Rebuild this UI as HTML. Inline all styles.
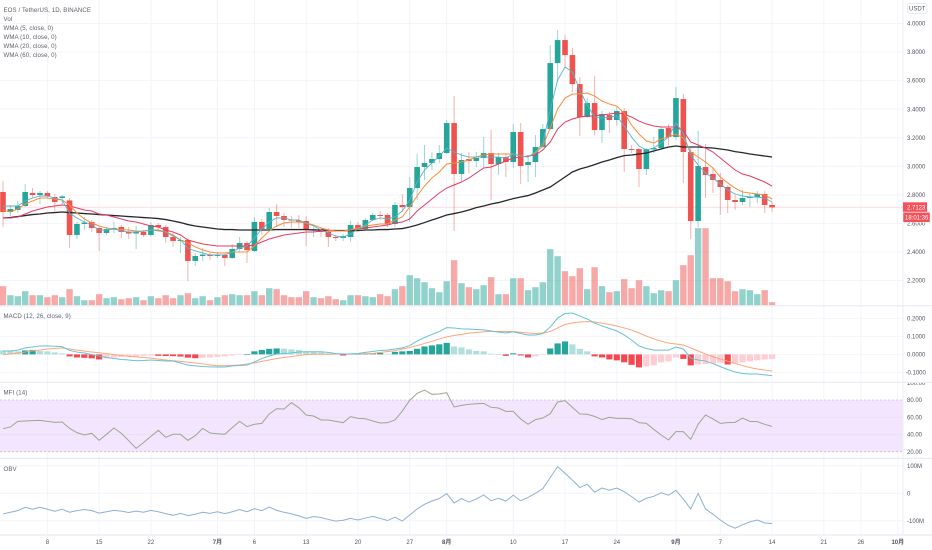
<!DOCTYPE html>
<html lang="zh">
<head>
<meta charset="utf-8">
<title>EOS / TetherUS 1D</title>
<style>
html,body{margin:0;padding:0;background:#fff;width:932px;height:550px;overflow:hidden}
svg{display:block}
text{font-family:"Liberation Sans","Noto Sans CJK SC",sans-serif;font-size:6px;fill:#50535e}
.legend{font-size:6.1px;letter-spacing:.1px;fill:#5d606b}
</style>
</head>
<body>
<svg id="chart" xmlns="http://www.w3.org/2000/svg" width="932" height="550" viewBox="0 0 932 550">
  <defs><clipPath id="mfiLabelClip"><rect x="903" y="383" width="29" height="76"/></clipPath></defs>
  <rect x="0" y="0" width="932" height="550" fill="#ffffff"/>
  <g id="grid"></g>
  <rect x="0" y="400" width="903" height="51.7" fill="#f3e5fd"/>
  <line x1="0" x2="903" y1="400" y2="400" stroke="#cbbdd6" stroke-width="0.8" stroke-dasharray="2 2"/>
  <line x1="0" x2="903" y1="451.7" y2="451.7" stroke="#cbbdd6" stroke-width="0.8" stroke-dasharray="2 2"/>
  <g id="mfiGrid"></g>
  <line x1="0" x2="903" y1="207.4" y2="207.4" stroke="#fde3e3" stroke-width="1.4"/>
  <g id="volume"></g>
  <g id="candles"></g>
  <g id="wma"></g>
  <g id="macdPane"></g>
  <g id="mfiPane"></g>
  <g id="obvPane"></g>
  <g stroke="#e8eaf0" stroke-width="1.2">
    <line x1="0" x2="932" y1="305.8" y2="305.8"/>
    <line x1="0" x2="932" y1="382.3" y2="382.3"/>
    <line x1="0" x2="932" y1="458.4" y2="458.4"/>
    <line x1="0" x2="932" y1="535" y2="535"/>
  </g>
  <line x1="903" x2="903" y1="0" y2="535" stroke="#eceef4" stroke-width="1"/>
  <g id="axisLabels"></g>
  <g>
    <text class="legend" x="3.5" y="11.8">EOS / TetherUS, 1D, BINANCE</text>
    <text class="legend" x="3.5" y="20.8">Vol</text>
    <text class="legend" x="3.5" y="29.8">WMA (5, close, 0)</text>
    <text class="legend" x="3.5" y="38.8">WMA (10, close, 0)</text>
    <text class="legend" x="3.5" y="47.8">WMA (20, close, 0)</text>
    <text class="legend" x="3.5" y="56.8">WMA (60, close, 0)</text>
  </g>
  <text class="legend" x="3.5" y="318">MACD (12, 26, close, 9)</text>
  <text class="legend" x="3.5" y="394.6">MFI (14)</text>
  <text class="legend" x="3.5" y="471">OBV</text>
  <g>
    <rect x="907.5" y="3.5" width="19.5" height="9.8" rx="1.8" fill="#fff" stroke="#e0e3eb" stroke-width="0.8"/>
    <text x="917.2" y="10.5" text-anchor="middle" font-size="5.6">USDT</text>
  </g>
  <g>
    <rect x="903" y="202.3" width="24" height="9.5" fill="#f4515a"/>
    <text x="907" y="209.3" style="fill:#fff">2.7123</text>
    <rect x="903" y="212.3" width="27" height="10" fill="#f4515a" stroke="#fff" stroke-width="0.5"/>
    <text x="905" y="219.6" style="fill:#fff">18:01:36</text>
  </g>
</svg>
<script>
var opens=[2.820,2.680,2.694,2.722,2.813,2.799,2.813,2.785,2.778,2.761,
2.519,2.596,2.610,2.568,2.533,2.557,2.575,2.540,2.529,2.540,
2.519,2.589,2.575,2.505,2.477,2.484,2.337,2.372,2.382,2.372,
2.379,2.358,2.421,2.463,2.407,2.610,2.561,2.680,2.652,2.627,
2.620,2.617,2.554,2.561,2.540,2.505,2.498,2.505,2.589,2.561,
2.624,2.659,2.659,2.596,2.729,2.715,2.848,2.995,3.023,3.051,
3.093,3.303,2.946,3.051,3.037,3.058,3.093,3.016,3.065,3.030,
3.240,3.009,3.030,3.135,3.261,3.723,3.884,3.779,3.576,3.345,
3.443,3.254,3.359,3.324,3.387,3.121,3.121,2.981,3.118,3.128,
3.268,3.205,3.471,3.100,2.617,2.995,2.946,2.904,2.855,2.764,
2.750,2.778,2.785,2.806,2.729];
var highs=[2.897,2.729,2.757,2.876,2.848,2.827,2.827,2.806,2.799,2.778,
2.610,2.645,2.624,2.575,2.575,2.610,2.589,2.575,2.582,2.554,
2.610,2.603,2.589,2.533,2.505,2.498,2.393,2.428,2.393,2.400,
2.393,2.456,2.505,2.477,2.645,2.631,2.708,2.736,2.673,2.652,
2.659,2.652,2.575,2.575,2.568,2.519,2.526,2.617,2.610,2.638,
2.673,2.687,2.673,2.750,2.806,2.925,3.086,3.149,3.100,3.149,
3.324,3.492,3.093,3.100,3.100,3.205,3.254,3.093,3.093,3.296,
3.303,3.079,3.219,3.296,3.849,3.954,3.919,3.828,3.625,3.478,
3.632,3.387,3.380,3.415,3.408,3.149,3.128,3.128,3.205,3.275,
3.296,3.555,3.506,3.128,3.247,3.156,2.988,2.953,2.869,2.799,
2.834,2.813,2.827,2.827,2.750];
var lows=[2.575,2.652,2.673,2.715,2.778,2.736,2.778,2.687,2.729,2.428,
2.491,2.554,2.540,2.407,2.519,2.533,2.498,2.491,2.421,2.505,
2.505,2.554,2.463,2.435,2.393,2.197,2.302,2.337,2.344,2.358,
2.302,2.351,2.400,2.323,2.400,2.519,2.554,2.575,2.575,2.568,
2.568,2.442,2.505,2.505,2.435,2.477,2.477,2.470,2.547,2.554,
2.617,2.624,2.575,2.575,2.680,2.610,2.764,2.904,2.974,3.023,
3.086,2.547,2.897,2.953,2.995,2.995,2.764,2.939,2.925,2.988,
2.876,2.890,2.925,3.128,3.254,3.590,3.695,3.520,3.212,3.338,
3.219,3.163,3.233,3.282,2.960,3.093,2.855,2.939,3.093,3.114,
3.149,3.184,2.883,2.491,2.575,2.778,2.813,2.659,2.673,2.694,
2.729,2.715,2.743,2.673,2.680];
var closes=[2.680,2.701,2.722,2.820,2.799,2.813,2.792,2.750,2.789,2.519,
2.596,2.606,2.568,2.533,2.561,2.568,2.540,2.529,2.540,2.519,
2.589,2.575,2.505,2.477,2.484,2.337,2.372,2.382,2.372,2.382,
2.358,2.421,2.463,2.414,2.610,2.561,2.680,2.652,2.624,2.620,
2.613,2.554,2.561,2.540,2.505,2.498,2.512,2.589,2.561,2.624,
2.659,2.652,2.596,2.729,2.715,2.848,2.995,3.023,3.051,3.093,
3.303,2.946,3.044,3.037,3.058,3.093,3.016,3.065,3.030,3.240,
3.002,3.030,3.135,3.261,3.723,3.884,3.779,3.576,3.345,3.443,
3.254,3.366,3.324,3.387,3.121,3.114,2.981,3.121,3.128,3.261,
3.205,3.478,3.100,2.617,3.002,2.939,2.904,2.855,2.764,2.750,
2.778,2.785,2.806,2.729,2.7123];
var volumes=[19,10,9,14,10,10,8,10,8,16,
9,5,5,11,7,8,6,7,8,5,
9,7,10,7,10,12,7,9,5,8,
10,11,10,10,14,10,17,16,10,8,
8,14,8,7,9,6,5,10,10,9,
8,11,9,16,19,30,27,23,17,13,
24,45,22,18,16,20,28,11,11,27,
27,15,18,23,56,49,34,29,37,16,
38,19,13,14,26,17,25,19,12,15,
14,25,40,50,77,77,27,27,24,14,
16,15,11,15,3];
var wma5=[2.722,2.722,2.722,2.757,2.778,2.792,2.792,2.778,2.764,2.673,
2.638,2.610,2.589,2.554,2.554,2.561,2.547,2.540,2.540,2.547,
2.554,2.547,2.540,2.512,2.484,2.428,2.407,2.393,2.379,2.379,
2.379,2.400,2.428,2.442,2.498,2.561,2.610,2.638,2.638,2.624,
2.624,2.603,2.582,2.554,2.533,2.512,2.505,2.526,2.561,2.589,
2.624,2.638,2.631,2.645,2.687,2.764,2.890,2.974,3.023,3.072,
3.128,3.100,3.079,3.065,3.065,3.065,3.065,3.065,3.058,3.086,
3.072,3.065,3.100,3.163,3.394,3.604,3.695,3.660,3.534,3.429,
3.345,3.338,3.345,3.352,3.282,3.205,3.142,3.114,3.128,3.163,
3.205,3.303,3.233,3.079,3.009,2.953,2.918,2.876,2.834,2.806,
2.792,2.785,2.785,2.778,2.750];
var wma10=[2.694,2.680,2.701,2.736,2.757,2.778,2.778,2.771,2.764,2.729,
2.673,2.631,2.603,2.582,2.568,2.561,2.557,2.554,2.547,2.544,
2.554,2.554,2.540,2.519,2.484,2.463,2.435,2.414,2.400,2.393,
2.393,2.400,2.400,2.400,2.442,2.498,2.547,2.582,2.603,2.610,
2.610,2.603,2.589,2.568,2.554,2.547,2.547,2.554,2.568,2.582,
2.589,2.596,2.596,2.624,2.645,2.715,2.792,2.862,2.918,2.960,
3.016,3.023,3.030,3.044,3.065,3.079,3.086,3.086,3.086,3.086,
3.072,3.065,3.093,3.142,3.268,3.401,3.478,3.506,3.506,3.513,
3.492,3.457,3.436,3.422,3.373,3.289,3.226,3.177,3.163,3.191,
3.205,3.226,3.198,3.100,3.065,3.030,2.988,2.925,2.883,2.848,
2.820,2.813,2.806,2.799,2.771];
var wma20=[2.638,2.638,2.645,2.666,2.687,2.701,2.715,2.722,2.729,2.722,
2.708,2.694,2.687,2.666,2.659,2.645,2.631,2.617,2.610,2.596,
2.582,2.575,2.554,2.540,2.519,2.484,2.470,2.456,2.449,2.442,
2.442,2.442,2.442,2.442,2.449,2.470,2.491,2.505,2.519,2.526,
2.533,2.540,2.540,2.547,2.547,2.547,2.547,2.554,2.561,2.568,
2.575,2.582,2.589,2.603,2.610,2.631,2.687,2.729,2.771,2.813,
2.848,2.869,2.890,2.918,2.953,2.988,2.995,3.016,3.037,3.058,
3.065,3.072,3.079,3.114,3.170,3.261,3.310,3.331,3.345,3.352,
3.352,3.359,3.366,3.373,3.366,3.345,3.317,3.296,3.282,3.275,
3.275,3.275,3.247,3.170,3.149,3.128,3.100,3.058,3.016,2.974,
2.946,2.932,2.911,2.890,2.862];
var wma60=[2.638,2.641,2.648,2.655,2.662,2.666,2.673,2.676,2.680,2.676,
2.673,2.669,2.666,2.662,2.659,2.655,2.652,2.648,2.645,2.641,
2.638,2.634,2.627,2.617,2.606,2.592,2.582,2.575,2.568,2.561,
2.557,2.557,2.554,2.554,2.554,2.554,2.554,2.557,2.557,2.557,
2.557,2.557,2.554,2.554,2.550,2.550,2.550,2.550,2.550,2.554,
2.554,2.557,2.557,2.561,2.564,2.575,2.589,2.606,2.624,2.641,
2.659,2.669,2.680,2.694,2.711,2.722,2.736,2.746,2.760,2.774,
2.785,2.795,2.813,2.834,2.855,2.890,2.925,2.960,2.981,2.995,
3.012,3.030,3.044,3.061,3.075,3.079,3.086,3.093,3.107,3.121,
3.135,3.142,3.135,3.135,3.135,3.131,3.128,3.121,3.114,3.103,
3.096,3.086,3.079,3.072,3.065];
var macdLine=[.019,.019,.024,.036,.041,.047,.047,.045,.043,.022,
.013,.008,-.001,-.009,-.017,-.023,-.028,-.031,-.035,-.034,
-.031,-.034,-.037,-.037,-.048,-.059,-.064,-.067,-.069,-.070,
-.070,-.064,-.062,-.059,-.042,-.023,-.009,.002,.005,.008,
.013,.015,.015,.015,.011,.004,.002,.003,.005,.011,
.016,.022,.024,.030,.036,.049,.074,.094,.111,.127,
.149,.147,.142,.141,.138,.136,.130,.124,.119,.126,
.116,.108,.108,.116,.152,.202,.227,.230,.213,.197,
.174,.158,.144,.130,.108,.080,.047,.033,.024,.024,
.024,.041,.030,-.020,-.031,-.037,-.051,-.068,-.084,-.098,
-.106,-.109,-.109,-.114,-.118];
var signalLine=[-.002,.002,.008,.013,.020,.024,.030,.033,.036,.030,
.024,.019,.013,.009,.004,-.001,-.006,-.011,-.014,-.018,
-.020,-.026,-.031,-.035,-.039,-.043,-.048,-.053,-.059,-.063,
-.063,-.061,-.059,-.053,-.047,-.039,-.031,-.023,-.017,-.012,
-.006,-.001,.001,.001,.001,.002,.002,.002,.003,.004,
.005,.011,.016,.020,.030,.038,.049,.061,.072,.086,
.097,.105,.111,.118,.122,.126,.127,.127,.127,.127,
.123,.119,.116,.119,.127,.147,.166,.175,.180,.182,
.180,.174,.166,.158,.147,.136,.119,.102,.086,.074,
.063,.058,.052,.036,.019,.002,-.013,-.026,-.038,-.051,
-.062,-.073,-.081,-.087,-.092];
var macdHist=[.022,.022,.017,.022,.025,.019,.017,.011,.006,-.011,
-.017,-.019,-.022,-.028,-.022,-.017,-.014,-.013,-.011,-.008,
-.006,-.008,-.009,-.010,-.012,-.018,-.021,-.019,-.017,-.014,
-.011,-.006,-.003,.002,.017,.025,.031,.033,.032,.028,
.025,.017,.014,.011,.006,.003,-.006,-.003,.002,.003,
.006,.008,.003,.014,.017,.019,.031,.044,.050,.056,
.064,.044,.039,.028,.019,.017,.004,.002,-.008,.006,
-.006,-.017,-.011,-.002,.033,.061,.072,.056,.031,.017,
-.011,-.017,-.028,-.033,-.044,-.058,-.072,-.067,-.061,-.044,
-.039,-.017,-.025,-.061,-.056,-.053,-.050,-.047,-.056,-.050,
-.044,-.039,-.033,-.028,-.025];
var mfiValues=[46.7,48.7,55.2,55.6,56,56.4,55.2,54.1,54.5,47.1,
42.1,39.4,41.3,33.2,40.2,47.5,41.3,32.8,23.9,30.5,
37.8,44.8,36.7,40.2,40.2,33.2,38.6,47.1,41.7,40.9,
40.2,47.9,55.2,49.1,51.8,52.9,63.8,69.9,69.6,76.9,
71.1,62.6,61.4,56.8,56.8,55.2,53.7,60.7,58.7,58.3,
55.6,53.3,53.7,56.8,67.2,79.6,87.7,91.6,86.6,87,
88.5,71.9,73.8,75,75.7,76.1,71.5,70.7,66.8,66.8,
58,51.8,57.2,59.1,64.1,77.7,79.2,71.5,63.8,63.4,
61,57.2,59.9,58.7,58.7,58.3,53.7,52.9,46,39.4,
33.6,43.3,43.3,34.4,51.8,62.6,58,52.9,53.7,54.1,
59.1,55.2,54.9,51.8,49.4];
var obvValues=[-75,-69,-63,-51,-58,-51,-58,-65,-58,-69,
-63,-59,-63,-72,-67,-62,-65,-70,-65,-69,
-62,-67,-74,-80,-73,-81,-76,-69,-73,-67,
-74,-67,-59,-67,-56,-63,-50,-62,-69,-75,
-82,-91,-85,-88,-95,-101,-98,-91,-97,-90,
-84,-91,-99,-87,-101,-79,-57,-40,-28,-19,
-1,-35,-19,-32,-21,-6,-27,-18,-28,-7,
-27,-15,0,17,57,97,73,48,21,33,
4,19,11,19,6,-12,-32,-18,-11,2,
-7,11,-21,-57,0,-57,-76,-97,-115,-127,
-114,-104,-97,-108,-110];
var priceTicks=[4.0,3.8,3.6,3.4,3.2,3.0,2.8,2.6,2.4,2.2];
var macdTicks=[0.2,0.1,0,-0.1];
var mfiTicks=[100,80,60,40,20];
var obvTicks=[100,0,-100];
var obvTickLabels=['100M','0','-100M'];
var timeTickBars=[6,13,20,29,34,41,48,55,60,69,76,83,91,97,104,111,116,121];
var timeTickLabels=['8','15','22','7月','6','13','20','27','8月','10','17','24','9月','7','14','21','26','10月'];
var monthTicks=['7月','8月','9月','10月'];

var SVG='http://www.w3.org/2000/svg';
var UP='#26a69a',DOWN='#ef5350';
function barX(i){return 3+7.395*i;}
function priceY(p){return 23.5+(4-p)*142.8;}
function volH(v){return v;}
function macdY(v){return 354.4-v*180;}
function mfiY(v){return 400+(80-v)*0.8617;}
function obvY(v){return 493.3-v*0.275;}
function mk(tag,parent,attrs){
  var el=document.createElementNS(SVG,tag);
  for(var k in attrs){el.setAttribute(k,attrs[k]);}
  parent.appendChild(el);
  return el;
}
function pathOf(values,yFn){
  var d='';
  for(var i=0;i<values.length;i++){d+=(i?'L':'M')+barX(i).toFixed(2)+' '+yFn(values[i]).toFixed(2);}
  return d;
}
var grid=document.getElementById('grid');
var mfiGrid=document.getElementById('mfiGrid');
var GRID='#f2f4fa';
timeTickBars.forEach(function(b){
  var el=mk('line',grid,{x1:barX(b),x2:barX(b),y1:0,y2:535,stroke:GRID,'stroke-width':1});
  
  
});
priceTicks.forEach(function(t){
  var el=mk('line',grid,{x1:0,x2:903,y1:priceY(t),y2:priceY(t),stroke:GRID,'stroke-width':1});
  
  
});
macdTicks.forEach(function(t){
  var el=mk('line',grid,{x1:0,x2:903,y1:macdY(t),y2:macdY(t),stroke:GRID,'stroke-width':1});
  
  
});
obvTicks.forEach(function(t){
  var el=mk('line',grid,{x1:0,x2:903,y1:obvY(t),y2:obvY(t),stroke:GRID,'stroke-width':1});
  
  
});
[60,40].forEach(function(t){
  var el=mk('line',mfiGrid,{x1:0,x2:903,y1:mfiY(t),y2:mfiY(t),stroke:'#ebdff5','stroke-width':1});
  
  
});

var volG=document.getElementById('volume');
var candleG=document.getElementById('candles');
closes.forEach(function(c,i){
  var o=opens[i],col=c>=o?UP:DOWN;
  var h=volH(volumes[i]);
  var v=mk('rect',volG,{x:barX(i)-3.2,y:305.2-h,width:6.4,height:h,fill:col,opacity:.5});
  
  
  var w=mk('line',candleG,{x1:barX(i),x2:barX(i),y1:priceY(highs[i]),y2:priceY(lows[i]),stroke:col,'stroke-width':1,opacity:.45});
  
  
  var top=priceY(Math.max(o,c)),bot=priceY(Math.min(o,c));
  var b=mk('rect',candleG,{x:barX(i)-2.8,y:top,width:5.6,height:Math.max(bot-top,1),fill:col});
  
  
});

var wmaG=document.getElementById('wma');
var w60=mk('path',wmaG,{d:pathOf(wma60,priceY),fill:'none',stroke:'#24272b','stroke-width':1.3});


var w20=mk('path',wmaG,{d:pathOf(wma20,priceY),fill:'none',stroke:'#e93a62','stroke-width':1});


var w10=mk('path',wmaG,{d:pathOf(wma10,priceY),fill:'none',stroke:'#fb8c3a','stroke-width':1});


var w5=mk('path',wmaG,{d:pathOf(wma5,priceY),fill:'none',stroke:'#56b3cc','stroke-width':.9});



var macdG=document.getElementById('macdPane');
macdHist.forEach(function(v,i){
  var prev=i?macdHist[i-1]:v;
  var col=v>=0?(v>prev?'#26a69a':'#b2dfdb'):(v<prev?'#f4474f':'#ffcdd2');
  var y0=macdY(0),y1=macdY(v);
  var r=mk('rect',macdG,{x:barX(i)-3.1,y:Math.min(y0,y1),width:6.2,height:Math.max(Math.abs(y1-y0),.6),fill:col});
  
  
});
var sig=mk('path',macdG,{d:pathOf(signalLine,macdY),fill:'none',stroke:'#ffa47a','stroke-width':1});


var mac=mk('path',macdG,{d:pathOf(macdLine,macdY),fill:'none',stroke:'#66c2d4','stroke-width':1});



var mfiL=mk('path',document.getElementById('mfiPane'),{d:pathOf(mfiValues,mfiY),fill:'none',stroke:'#9aa88c','stroke-width':1});


var obvL=mk('path',document.getElementById('obvPane'),{d:pathOf(obvValues,obvY),fill:'none',stroke:'#8fb0d6','stroke-width':1});



var axisG=document.getElementById('axisLabels');
function label(str,x,y,anchor,weight){
  var t=mk('text',axisG,{x:x,y:y,'text-anchor':anchor});
  t.textContent=str;
  if(weight){t.setAttribute('font-weight',weight);}
  return t;
}
priceTicks.forEach(function(t){
  var el=label(t.toFixed(4),907,priceY(t)+2.1,'start');
  
  
});
macdTicks.forEach(function(t){
  var el=label(t.toFixed(4),t<0?905.5:907,macdY(t)+2.1,'start');
  
  
});
mfiTicks.forEach(function(t){
  var el=label(t.toFixed(2),907,mfiY(t)+2.1,'start');
  el.setAttribute('clip-path','url(#mfiLabelClip)');
  
  
});
obvTicks.forEach(function(t,i){
  var el=label(obvTickLabels[i],907,obvY(t)+2.1,'start');
  
  
});
timeTickBars.forEach(function(b,i){
  var s=timeTickLabels[i];
  var el=label(s,barX(b),544,'middle',monthTicks.indexOf(s)>=0?'bold':null);
  
  
});
</script>
</body>
</html>
